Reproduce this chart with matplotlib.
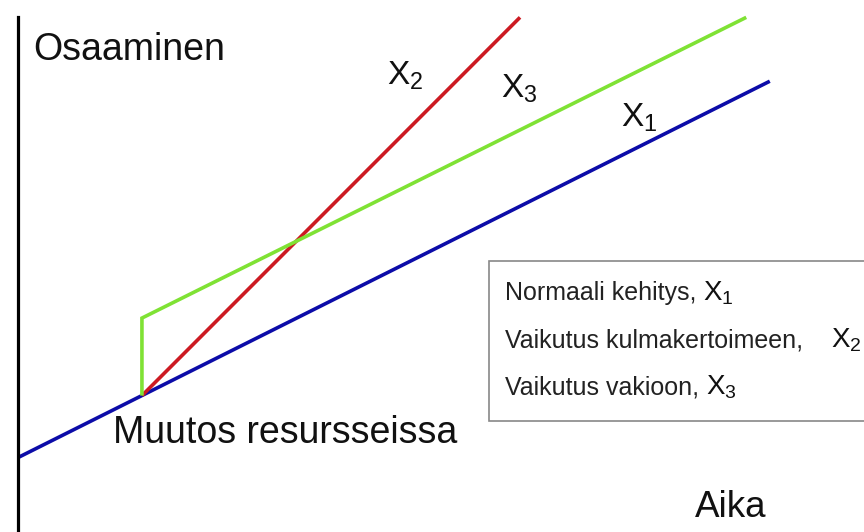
import matplotlib
matplotlib.use("Agg")
import matplotlib.pyplot as plt
from matplotlib.patches import Rectangle

plt.rcParams['font.family'] = ['Liberation Sans', 'DejaVu Sans']
plt.rcParams['mathtext.default'] = 'regular'

# Osaaminen (competence) over Aika (time); resources change at t = 2
time_x1 = [0.0, 12.13]          # normaali kehitys
comp_x1 = [1.2, 7.27]
time_x2 = [2.0, 8.1]            # vaikutus kulmakertoimeen
comp_x2 = [2.2, 8.3]
time_x3 = [2.0, 2.0, 11.75]     # vaikutus vakioon
comp_x3 = [2.2, 3.45, 8.3]

legend_labels = ['Normaali kehitys, ', 'Vaikutus kulmakertoimeen,    ', 'Vaikutus vakioon, ']
legend_syms = [r'$X_1$', r'$X_2$', r'$X_3$']

fig = plt.figure(figsize=(8.64, 5.32), dpi=100)
ax = fig.add_axes([0, 0, 1, 1])
ax.set_xlim(-0.29, 13.65)
ax.set_ylim(0, 8.58)

# only the vertical axis is drawn
for s in ['top', 'right', 'bottom']:
    ax.spines[s].set_visible(False)
ax.spines['left'].set_position(('data', 0))
ax.spines['left'].set_bounds(0, 8.31)
ax.spines['left'].set_linewidth(2.3)
ax.set_xticks([])
ax.set_yticks([])

lw = 2.6
ax.plot(time_x1, comp_x1, color='#0c0ca8', lw=lw, solid_capstyle='butt')
ax.plot(time_x2, comp_x2, color='#cc1a22', lw=lw, solid_capstyle='butt')
ax.plot(time_x3, comp_x3, color='#7fe234', lw=lw, solid_capstyle='butt', solid_joinstyle='miter')

ax.text(0.24, 7.62, 'Osaaminen', fontsize=27, color='#111111')
ax.text(1.53, 1.44, 'Muutos resursseissa', fontsize=27, color='#111111')
ax.text(10.92, 0.24, 'Aika', fontsize=26.5, color='#111111')

ax.text(5.95, 7.21, r'$X_2$', fontsize=24, color='#111111')
ax.text(7.79, 7.0, r'$X_3$', fontsize=24, color='#111111')
ax.text(9.73, 6.54, r'$X_1$', fontsize=24, color='#111111')

# selite-laatikko
ax.add_patch(Rectangle((7.6, 1.79), 7.0, 2.58, facecolor='white',
                       edgecolor='#888888', lw=1.2, zorder=3))
baselines = [3.74, 2.97, 2.21]
for lab, sym, yb in zip(legend_labels, legend_syms, baselines):
    t = ax.text(7.85, yb, lab, fontsize=18, color='#222222', zorder=4)
    fig.canvas.draw()
    bb = t.get_window_extent().transformed(ax.transData.inverted())
    ax.text(bb.x1, yb, sym, fontsize=20, color='#111111', zorder=4)

fig.savefig('out.png', dpi=100)
